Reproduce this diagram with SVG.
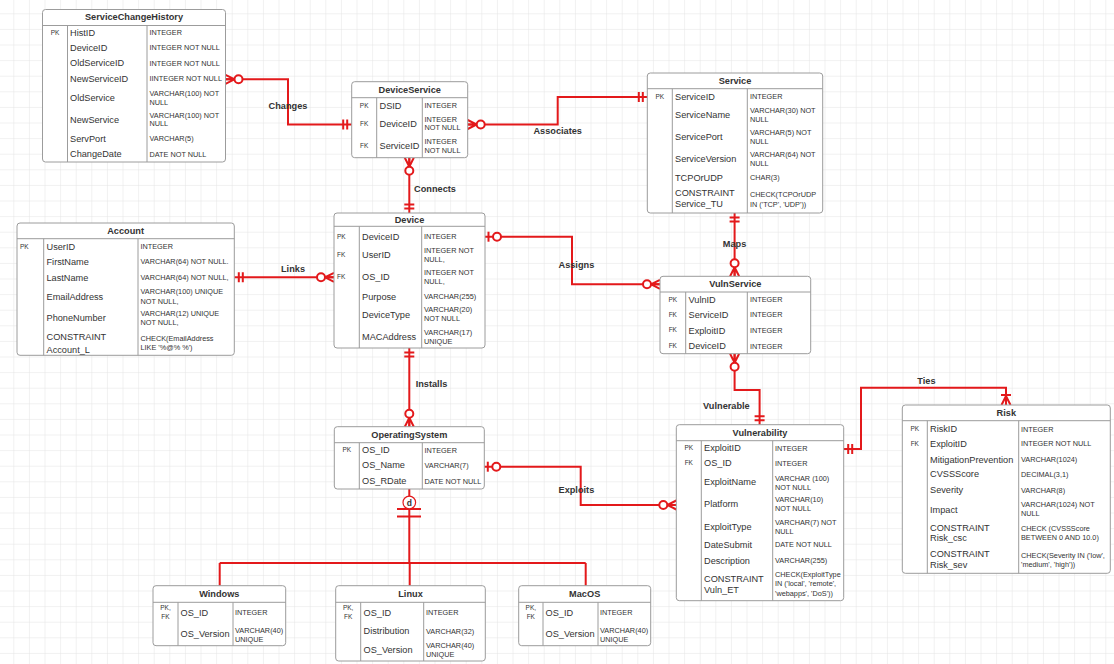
<svg xmlns="http://www.w3.org/2000/svg" xmlns:xlink="http://www.w3.org/1999/xlink" width="1114" height="664" viewBox="0 0 1114 664">
<defs>
<pattern id="grid" width="15.6" height="15.6" patternUnits="userSpaceOnUse" x="-1.3" y="-1.3">
<path d="M15.6,0 V15.6 M0,15.6 H15.6" fill="none" stroke="#e3e3e3" stroke-width="1"/>
</pattern>
<g id="zm"><path d="M0,-4.5 L9,0 L0,4.5 M0,0 H9"/><circle cx="13" cy="0" r="4" fill="#fff"/></g>
<g id="om"><path d="M4.5,-5 V5 M8.5,-5 V5"/></g>
<g id="oo"><path d="M3.5,-5 V5"/><circle cx="12" cy="0" r="4" fill="#fff"/></g>
<g id="onm"><path d="M0,-4.5 L9,0 L0,4.5 M0,0 H9 M10,-5 V5"/></g>
</defs>
<style>
.box{fill:#fff;stroke:#9c9c9c;stroke-width:1}
.ln{stroke:#9c9c9c;stroke-width:1;fill:none}
.h{font-family:"Liberation Sans",Arial,sans-serif;font-size:9.2px;font-weight:bold;fill:#333;text-anchor:middle}
.n{font-family:"Liberation Sans",Arial,sans-serif;font-size:9.2px;fill:#333}
.t{font-family:"Liberation Sans",Arial,sans-serif;font-size:7.3px;fill:#333}
.k{font-family:"Liberation Sans",Arial,sans-serif;font-size:6.5px;fill:#333;text-anchor:middle}
.ks{font-family:"Liberation Sans",Arial,sans-serif;font-size:6.5px;fill:#333}
.rel{stroke:#e3191b;stroke-width:2;fill:none}
.dec{stroke:#e3191b;stroke-width:2;fill:none}
.lab{font-family:"Liberation Sans",Arial,sans-serif;font-size:9.2px;font-weight:bold;fill:#333;text-anchor:middle}
</style>
<rect x="0" y="0" width="1114" height="664" fill="#fff"/>
<rect x="0" y="0" width="1114" height="664" fill="url(#grid)"/>

<g id="connectors">
<path class="rel" d="M226,79.3 H288 V124.5 H351.7"/>
<path class="rel" d="M467.7,124.5 H557.7 V97 H647.3"/>
<path class="rel" d="M409.3,157.7 V213"/>
<path class="rel" d="M234.3,277.3 H334"/>
<path class="rel" d="M485,236.7 H572 V284.3 H660"/>
<path class="rel" d="M734.6,213 V276.3"/>
<path class="rel" d="M734.6,353.7 V390 H759.6 V424.7"/>
<path class="rel" d="M843.7,449 H861 V387.7 H1006 V405"/>
<path class="rel" d="M484.3,466.7 H580.7 V505 H676.3"/>
<path class="rel" d="M409.3,348 V426.7"/>
<path class="rel" d="M409.3,489 V563 M219.7,563 H585.7 M219.7,563 V585.7 M409.7,563 V585.7 M585.7,563 V585.7"/>
<g class="dec">
<use href="#zm" transform="translate(225.5,79.3)"/>
<use href="#om" transform="translate(351.7,124.5) rotate(180)"/>
<use href="#zm" transform="translate(467.7,124.5)"/>
<use href="#om" transform="translate(647.3,97) rotate(180)"/>
<use href="#zm" transform="translate(409.3,157.7) rotate(90)"/>
<use href="#om" transform="translate(409.3,213) rotate(-90)"/>
<use href="#om" transform="translate(234.3,277.3)"/>
<use href="#zm" transform="translate(334,277.3) rotate(180)"/>
<use href="#oo" transform="translate(485,236.7)"/>
<use href="#zm" transform="translate(660,284.3) rotate(180)"/>
<use href="#om" transform="translate(734.6,213) rotate(90)"/>
<use href="#zm" transform="translate(734.6,276.3) rotate(-90)"/>
<use href="#zm" transform="translate(734.6,353.7) rotate(90)"/>
<use href="#om" transform="translate(759.6,424.7) rotate(-90)"/>
<use href="#om" transform="translate(843.7,449)"/>
<use href="#onm" transform="translate(1006,405) rotate(-90)"/>
<use href="#oo" transform="translate(484.3,466.7)"/>
<use href="#zm" transform="translate(676.3,505) rotate(180)"/>
<use href="#om" transform="translate(409.3,348) rotate(90)"/>
<use href="#zm" transform="translate(409.3,426.7) rotate(-90)"/>
<path d="M397,509 H421 M397,516.5 H421"/>
<circle cx="409.3" cy="502.5" r="6.3" fill="#fff" stroke-width="1.2"/>
</g>
<text class="lab" x="409.3" y="505.6" style="font-size:8.5px">d</text>
<text class="lab" x="288" y="108.9">Changes</text>
<text class="lab" x="557.7" y="134">Associates</text>
<text class="lab" x="435" y="192.2">Connects</text>
<text class="lab" x="293" y="272.3">Links</text>
<text class="lab" x="576.4" y="267.5">Assigns</text>
<text class="lab" x="734.6" y="246.5">Maps</text>
<text class="lab" x="726.4" y="409.2">Vulnerable</text>
<text class="lab" x="926.4" y="384.2">Ties</text>
<text class="lab" x="576.4" y="492.5">Exploits</text>
<text class="lab" x="431.5" y="387.2">Installs</text>
</g>

<g id="ServiceChangeHistory">
<rect class="box" x="42.5" y="9.5" width="183" height="152.5" rx="3"/>
<path class="ln" d="M42.5,25.5 H225.5 M67.5,25.5 V162 M147,25.5 V162"/>
<text class="h" x="134" y="20">ServiceChangeHistory</text>
<text class="k" x="55" y="34.6">PK</text>
<text class="n" x="70" y="35.5">HistID</text>
<text class="n" x="70" y="51">DeviceID</text>
<text class="n" x="70" y="66.3">OldServiceID</text>
<text class="n" x="70" y="81.5">NewServiceID</text>
<text class="n" x="70" y="100.5">OldService</text>
<text class="n" x="70" y="123.2">NewService</text>
<text class="n" x="70" y="141.5">ServPort</text>
<text class="n" x="70" y="157.2">ChangeDate</text>
<text class="t" x="149.5" y="34.9">INTEGER</text>
<text class="t" x="149.5" y="50.3">INTEGER NOT NULL</text>
<text class="t" x="149.5" y="65.6">INTEGER NOT NULL</text>
<text class="t" x="149.5" y="80.9">IINTEGER NOT NULL</text>
<text class="t" x="149.5" y="95.9">VARCHAR(100) NOT</text>
<text class="t" x="149.5" y="104.9">NULL</text>
<text class="t" x="149.5" y="117.6">VARCHAR(100) NOT</text>
<text class="t" x="149.5" y="126.2">NULL</text>
<text class="t" x="149.5" y="140.9">VARCHAR(5)</text>
<text class="t" x="149.5" y="156.6">DATE NOT NULL</text>
</g>

<g id="DeviceService">
<rect class="box" x="351.7" y="81.7" width="116" height="76" rx="3"/>
<path class="ln" d="M351.7,97.7 H467.7 M376.7,97.7 V157.7 M422.3,97.7 V157.7"/>
<text class="h" x="409.7" y="92.9">DeviceService</text>
<text class="k" x="364.2" y="108">PK</text>
<text class="k" x="364.2" y="126.3">FK</text>
<text class="k" x="364.2" y="148.3">FK</text>
<text class="n" x="379.5" y="108.9">DSID</text>
<text class="n" x="379.5" y="127.2">DeviceID</text>
<text class="n" x="379.5" y="149.2">ServiceID</text>
<text class="t" x="424.5" y="108.3">INTEGER</text>
<text class="t" x="424.5" y="121.6">INTEGER</text>
<text class="t" x="424.5" y="130.3">NOT NULL</text>
<text class="t" x="424.5" y="143.6">INTEGER</text>
<text class="t" x="424.5" y="152.6">NOT NULL</text>
</g>

<g id="Service">
<rect class="box" x="647.3" y="73" width="175.4" height="140" rx="3"/>
<path class="ln" d="M647.3,88.7 H822.7 M672.3,88.7 V213 M747.3,88.7 V213"/>
<text class="h" x="735" y="84">Service</text>
<text class="k" x="659.8" y="98.6">PK</text>
<text class="n" x="675" y="99.5">ServiceID</text>
<text class="n" x="675" y="117.9">ServiceName</text>
<text class="n" x="675" y="140.2">ServicePort</text>
<text class="n" x="675" y="161.9">ServiceVersion</text>
<text class="n" x="675" y="180.5">TCPOrUDP</text>
<text class="n" x="675" y="196.2">CONSTRAINT</text>
<text class="n" x="675" y="207.2">Service_TU</text>
<text class="t" x="750" y="98.9">INTEGER</text>
<text class="t" x="750" y="113.3">VARCHAR(30) NOT</text>
<text class="t" x="750" y="122.3">NULL</text>
<text class="t" x="750" y="134.9">VARCHAR(5) NOT</text>
<text class="t" x="750" y="143.9">NULL</text>
<text class="t" x="750" y="157.3">VARCHAR(64) NOT</text>
<text class="t" x="750" y="166.3">NULL</text>
<text class="t" x="750" y="179.9">CHAR(3)</text>
<text class="t" x="750" y="197.3">CHECK(TCPOrUDP</text>
<text class="t" x="750" y="206.6">IN ('TCP', 'UDP'))</text>
</g>

<g id="Account">
<rect class="box" x="17" y="223" width="217.3" height="132.3" rx="3"/>
<path class="ln" d="M17,238.7 H234.3 M43.7,238.7 V355.3 M138,238.7 V355.3"/>
<text class="h" x="125.6" y="234">Account</text>
<text class="ks" x="20" y="248.6">PK</text>
<text class="n" x="46.5" y="249.5">UserID</text>
<text class="n" x="46.5" y="264.5">FirstName</text>
<text class="n" x="46.5" y="280.5">LastName</text>
<text class="n" x="46.5" y="299.5">EmailAddress</text>
<text class="n" x="46.5" y="320.5">PhoneNumber</text>
<text class="n" x="46.5" y="339.5">CONSTRAINT</text>
<text class="n" x="46.5" y="352.9">Account_L</text>
<text class="t" x="140.5" y="248.9">INTEGER</text>
<text class="t" x="140.5" y="263.9">VARCHAR(64) NOT NULL.</text>
<text class="t" x="140.5" y="279.9">VARCHAR(64) NOT NULL,</text>
<text class="t" x="140.5" y="293.9">VARCHAR(100) UNIQUE</text>
<text class="t" x="140.5" y="303.9">NOT NULL,</text>
<text class="t" x="140.5" y="315.6">VARCHAR(12) UNIQUE</text>
<text class="t" x="140.5" y="324.6">NOT NULL,</text>
<text class="t" x="140.5" y="341.3">CHECK(EmailAddress</text>
<text class="t" x="140.5" y="349.9">LIKE '%@% %')</text>
</g>

<g id="Device">
<rect class="box" x="334" y="213" width="151" height="135" rx="3"/>
<path class="ln" d="M334,226.3 H485 M359.3,226.3 V348 M421.7,226.3 V348"/>
<text class="h" x="409.5" y="222.8">Device</text>
<text class="ks" x="337" y="238.6">PK</text>
<text class="ks" x="337" y="257">FK</text>
<text class="ks" x="337" y="279.3">FK</text>
<text class="n" x="362" y="239.5">DeviceID</text>
<text class="n" x="362" y="257.9">UserID</text>
<text class="n" x="362" y="280.2">OS_ID</text>
<text class="n" x="362" y="299.5">Purpose</text>
<text class="n" x="362" y="317.9">DeviceType</text>
<text class="n" x="362" y="339.5">MACAddress</text>
<text class="t" x="424" y="238.9">INTEGER</text>
<text class="t" x="424" y="253.3">INTEGER NOT</text>
<text class="t" x="424" y="262.3">NULL,</text>
<text class="t" x="424" y="274.6">INTEGER NOT</text>
<text class="t" x="424" y="283.6">NULL,</text>
<text class="t" x="424" y="298.9">VARCHAR(255)</text>
<text class="t" x="424" y="312.3">VARCHAR(20)</text>
<text class="t" x="424" y="321.3">NOT NULL</text>
<text class="t" x="424" y="334.9">VARCHAR(17)</text>
<text class="t" x="424" y="343.9">UNIQUE</text>
</g>

<g id="VulnService">
<rect class="box" x="660" y="276.3" width="150.7" height="77.4" rx="3"/>
<path class="ln" d="M660,292 H810.7 M685.7,292 V353.7 M747.3,292 V353.7"/>
<text class="h" x="735.3" y="287.4">VulnService</text>
<text class="k" x="672.8" y="302">PK</text>
<text class="k" x="672.8" y="317">FK</text>
<text class="k" x="672.8" y="332.3">FK</text>
<text class="k" x="672.8" y="348.3">FK</text>
<text class="n" x="688.5" y="302.9">VulnID</text>
<text class="n" x="688.5" y="317.9">ServiceID</text>
<text class="n" x="688.5" y="333.5">ExploitID</text>
<text class="n" x="688.5" y="349.2">DeviceID</text>
<text class="t" x="750" y="302.3">INTEGER</text>
<text class="t" x="750" y="317.3">INTEGER</text>
<text class="t" x="750" y="332.9">INTEGER</text>
<text class="t" x="750" y="348.6">INTEGER</text>
</g>

<g id="OperatingSystem">
<rect class="box" x="334.3" y="426.7" width="150" height="62.3" rx="3"/>
<path class="ln" d="M334.3,442.7 H484.3 M359.3,442.7 V489 M422.3,442.7 V489"/>
<text class="h" x="409.3" y="437.9">OperatingSystem</text>
<text class="k" x="346.8" y="452.3">PK</text>
<text class="n" x="362" y="453.2">OS_ID</text>
<text class="n" x="362" y="468.2">OS_Name</text>
<text class="n" x="362" y="484.2">OS_RDate</text>
<text class="t" x="424.5" y="452.6">INTEGER</text>
<text class="t" x="424.5" y="467.6">VARCHAR(7)</text>
<text class="t" x="424.5" y="483.6">DATE NOT NULL</text>
</g>

<g id="Vulnerability">
<rect class="box" x="676.3" y="424.7" width="167.4" height="176" rx="3"/>
<path class="ln" d="M676.3,440.7 H843.7 M701.3,440.7 V600.7 M772.7,440.7 V600.7"/>
<text class="h" x="760" y="436">Vulnerability</text>
<text class="k" x="688.8" y="450.3">PK</text>
<text class="k" x="688.8" y="465.3">FK</text>
<text class="n" x="704" y="451.2">ExploitID</text>
<text class="n" x="704" y="466.2">OS_ID</text>
<text class="n" x="704" y="485.2">ExploitName</text>
<text class="n" x="704" y="507.2">Platform</text>
<text class="n" x="704" y="529.5">ExploitType</text>
<text class="n" x="704" y="547.9">DateSubmit</text>
<text class="n" x="704" y="563.9">Description</text>
<text class="n" x="704" y="581.9">CONSTRAINT</text>
<text class="n" x="704" y="592.9">Vuln_ET</text>
<text class="t" x="775" y="450.6">INTEGER</text>
<text class="t" x="775" y="465.6">INTEGER</text>
<text class="t" x="775" y="480.6">VARCHAR (100)</text>
<text class="t" x="775" y="489.6">NOT NULL</text>
<text class="t" x="775" y="502.3">VARCHAR(10)</text>
<text class="t" x="775" y="511.3">NOT NULL</text>
<text class="t" x="775" y="524.6">VARCHAR(7) NOT</text>
<text class="t" x="775" y="533.6">NULL</text>
<text class="t" x="775" y="547.3">DATE NOT NULL</text>
<text class="t" x="775" y="563.3">VARCHAR(255)</text>
<text class="t" x="775" y="577.3">CHECK(ExploitType</text>
<text class="t" x="775" y="586.3">IN ('local', 'remote',</text>
<text class="t" x="775" y="595.6">'webapps', 'DoS'))</text>
</g>

<g id="Risk">
<rect class="box" x="902.3" y="405" width="208" height="168.3" rx="3"/>
<path class="ln" d="M902.3,420.7 H1110.3 M927.3,420.7 V573.3 M1018.7,420.7 V573.3"/>
<text class="h" x="1006.3" y="416">Risk</text>
<text class="k" x="914.8" y="431.3">PK</text>
<text class="k" x="914.8" y="445.6">FK</text>
<text class="n" x="930" y="432.2">RiskID</text>
<text class="n" x="930" y="446.5">ExploitID</text>
<text class="n" x="930" y="462.5">MitigationPrevention</text>
<text class="n" x="930" y="477.2">CVSSScore</text>
<text class="n" x="930" y="493.2">Severity</text>
<text class="n" x="930" y="512.5">Impact</text>
<text class="n" x="930" y="530.5">CONSTRAINT</text>
<text class="n" x="930" y="540.5">Risk_csc</text>
<text class="n" x="930" y="557.2">CONSTRAINT</text>
<text class="n" x="930" y="568.2">Risk_sev</text>
<text class="t" x="1021" y="431.6">INTEGER</text>
<text class="t" x="1021" y="445.9">INTEGER NOT NULL</text>
<text class="t" x="1021" y="461.9">VARCHAR(1024)</text>
<text class="t" x="1021" y="476.6">DECIMAL(3,1)</text>
<text class="t" x="1021" y="492.6">VARCHAR(8)</text>
<text class="t" x="1021" y="506.9">VARCHAR(1024) NOT</text>
<text class="t" x="1021" y="515.9">NULL</text>
<text class="t" x="1021" y="530.9">CHECK (CVSSScore</text>
<text class="t" x="1021" y="539.9">BETWEEN 0 AND 10.0)</text>
<text class="t" x="1021" y="557.6">CHECK(Severity IN ('low',</text>
<text class="t" x="1021" y="566.6">'medium', 'high'))</text>
</g>

<g id="Windows">
<rect class="box" x="153" y="585.7" width="132.7" height="60" rx="3"/>
<path class="ln" d="M153,602.3 H285.7 M178,602.3 V645.7 M233,602.3 V645.7"/>
<text class="h" x="219.3" y="597">Windows</text>
<text class="k" x="165.5" y="609.6">PK,</text>
<text class="k" x="165.5" y="619">FK</text>
<text class="n" x="180.5" y="615.5">OS_ID</text>
<text class="n" x="180.5" y="637.2">OS_Version</text>
<text class="t" x="235" y="614.9">INTEGER</text>
<text class="t" x="235" y="632.6">VARCHAR(40)</text>
<text class="t" x="235" y="641.6">UNIQUE</text>
</g>

<g id="Linux">
<rect class="box" x="335.7" y="585.7" width="149.6" height="75.3" rx="3"/>
<path class="ln" d="M335.7,602.3 H485.3 M360.7,602.3 V661 M423.7,602.3 V661"/>
<text class="h" x="410.5" y="597">Linux</text>
<text class="k" x="348.2" y="609.6">PK,</text>
<text class="k" x="348.2" y="619">FK</text>
<text class="n" x="363.5" y="615.5">OS_ID</text>
<text class="n" x="363.5" y="634.2">Distribution</text>
<text class="n" x="363.5" y="653.2">OS_Version</text>
<text class="t" x="426" y="614.6">INTEGER</text>
<text class="t" x="426" y="633.6">VARCHAR(32)</text>
<text class="t" x="426" y="647.6">VARCHAR(40)</text>
<text class="t" x="426" y="656.6">UNIQUE</text>
</g>

<g id="MacOS">
<rect class="box" x="518.7" y="585.7" width="132" height="60" rx="3"/>
<path class="ln" d="M518.7,602.3 H650.7 M543,602.3 V645.7 M598,602.3 V645.7"/>
<text class="h" x="584.7" y="597">MacOS</text>
<text class="k" x="530.8" y="609.6">PK,</text>
<text class="k" x="530.8" y="619">FK</text>
<text class="n" x="545.5" y="615.5">OS_ID</text>
<text class="n" x="545.5" y="637.2">OS_Version</text>
<text class="t" x="600" y="614.9">INTEGER</text>
<text class="t" x="600" y="632.6">VARCHAR(40)</text>
<text class="t" x="600" y="641.6">UNIQUE</text>
</g>
</svg>
